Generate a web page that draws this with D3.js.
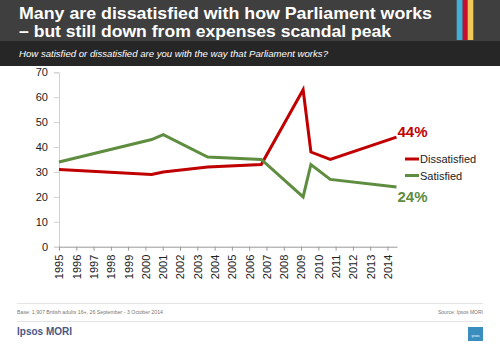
<!DOCTYPE html>
<html><head><meta charset="utf-8">
<script src="https://cdn.jsdelivr.net/npm/d3@7"></script>
<style>body{margin:0;background:#fff}svg{display:block;font-family:Arial,"Liberation Sans",sans-serif}</style>
</head><body>
<script>
const years = [1995, 2000.36, 2001.03, 2003.6, 2006.7, 2009.12, 2009.57, 2010.69, 2014.52];
const dissatisfied = [31, 29, 30, 32, 33, 63, 38, 35, 44];
const satisfied = [34, 43, 45, 36, 35, 20, 33, 27, 24];
const tickYears = d3.range(1995, 2015);
const yTicks = [0, 10, 20, 30, 40, 50, 60, 70];
const seriesNames = ["Dissatisfied", "Satisfied"];
const endLabels = ["44%", "24%"];
const colors = ["#c00000", "#5e8d3f"];

const W = 500, H = 346;
const svg = d3.select("body").append("svg").attr("width", W).attr("height", H);

// header
svg.append("rect").attr("x",0).attr("y",0).attr("width",W).attr("height",41).attr("fill","#3f3f3f");
svg.append("rect").attr("x",0).attr("y",41).attr("width",W).attr("height",25).attr("fill","#262626");
[["#3fb1d6",456.7,6],["#c8102e",462.7,5],["#f2c75c",467.7,5.6]].forEach(s=>{
  svg.append("rect").attr("x",s[1]).attr("y",0).attr("width",s[2]).attr("height",40).attr("fill",s[0]);
});
svg.append("text").attr("x",19).attr("y",19).attr("fill","#fff").attr("font-weight","bold").attr("font-size",17)
  .attr("textLength",413).attr("lengthAdjust","spacingAndGlyphs").text("Many are dissatisfied with how Parliament works");
svg.append("text").attr("x",19).attr("y",37).attr("fill","#fff").attr("font-weight","bold").attr("font-size",17)
  .attr("textLength",372).attr("lengthAdjust","spacingAndGlyphs").text("– but still down from expenses scandal peak");
svg.append("text").attr("x",19).attr("y",57).attr("fill","#fff").attr("font-style","italic").attr("font-size",9)
  .attr("textLength",309).attr("lengthAdjust","spacingAndGlyphs").text("How satisfied or dissatisfied are you with the way that Parliament works?");

// scales
const x = d3.scaleLinear().domain([1995, 2014.55]).range([59, 397]);
const y = d3.scaleLinear().domain([0, 70]).range([246.7, 72.3]);

// y axis
const ya = svg.append("g").attr("transform","translate(59,0)")
  .call(d3.axisLeft(y).tickValues(yTicks).tickSize(5).tickPadding(6));
ya.select(".domain").attr("stroke","#d0d0d0");
ya.selectAll(".tick line").attr("stroke","#d0d0d0");
ya.selectAll("text").attr("font-size",11).attr("fill","#222").attr("font-family","Arial, 'Liberation Sans', sans-serif");

// x axis
const xa = svg.append("g").attr("transform","translate(0,246.7)")
  .call(d3.axisBottom(x).tickValues(tickYears).tickFormat(d3.format("d")).tickSize(4).tickSizeOuter(0));
xa.select(".domain").attr("stroke","#999");
xa.selectAll(".tick line").attr("stroke","#999");
xa.selectAll("text").attr("font-size",11).attr("fill","#222").attr("font-family","Arial, 'Liberation Sans', sans-serif")
  .attr("transform","rotate(-90)").attr("text-anchor","end").attr("dy","0.35em").attr("x",-8).attr("y",0);

// lines
const line = d3.line().x(d=>x(d[0])).y(d=>y(d[1]));
[dissatisfied, satisfied].forEach((vals,i)=>{
  svg.append("path").datum(years.map((yr,j)=>[yr, vals[j]]))
    .attr("d", line).attr("fill","none").attr("stroke",colors[i]).attr("stroke-width",3).attr("stroke-linejoin","miter");
});

// end labels
[dissatisfied, satisfied].forEach((vals,i)=>{
  const last = vals[vals.length-1];
  svg.append("text").attr("x", x(years[years.length-1]) + 1)
    .attr("y", y(last) + (i===0 ? 0 : 15)).attr("fill",colors[i]).attr("font-weight","bold").attr("font-size",15)
    .text(endLabels[i]);
});

// legend
seriesNames.forEach((n,i)=>{
  const ly = 159 + i*16.5;
  svg.append("line").attr("x1",405).attr("x2",419).attr("y1",ly).attr("y2",ly).attr("stroke",colors[i]).attr("stroke-width",3);
  svg.append("text").attr("x",420).attr("y",ly+4).attr("font-size",11).attr("fill","#222").text(n);
});

// footer
svg.append("line").attr("x1",17).attr("x2",483).attr("y1",303.5).attr("y2",303.5).attr("stroke","#e4e4e4");
svg.append("line").attr("x1",17).attr("x2",483).attr("y1",321.5).attr("y2",321.5).attr("stroke","#e4e4e4");
svg.append("text").attr("x",17).attr("y",314).attr("font-size",5).attr("fill","#777")
  .attr("textLength",146).attr("lengthAdjust","spacingAndGlyphs").text("Base: 1,907 British adults 16+, 26 September - 3 October 2014");
svg.append("text").attr("x",483).attr("y",314).attr("font-size",5).attr("fill","#777").attr("text-anchor","end").text("Source: Ipsos MORI");
svg.append("text").attr("x",17).attr("y",335).attr("font-size",10).attr("font-weight","bold").attr("fill","#4a5785").text("Ipsos MORI");
svg.append("rect").attr("x",468).attr("y",327).attr("width",15).attr("height",14).attr("fill","#3a8dbf");
svg.append("text").attr("x",475.5).attr("y",337).attr("font-size",3.5).attr("fill","#fff").attr("text-anchor","middle").text("ipsos");
</script>
</body></html>
